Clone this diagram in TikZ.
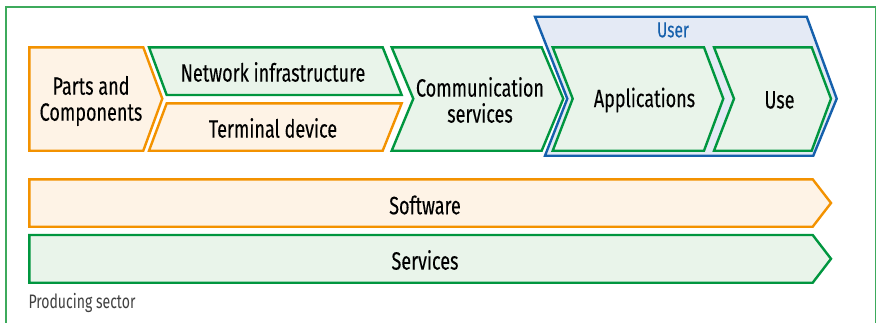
\documentclass[tikz,border=0pt]{standalone}
\usepackage{fontspec}
\setmainfont{Fira Sans}[FakeStretch=0.72]
\newfontfamily\lblfont{Fira Sans}[FakeStretch=0.72,FakeBold=0.2]
\definecolor{orl}{HTML}{F39200}
\definecolor{orf}{HTML}{FEF3E6}
\definecolor{grl}{HTML}{00963F}
\definecolor{grf}{HTML}{E9F4EA}
\definecolor{bll}{HTML}{1560AC}
\definecolor{blf}{HTML}{E4EAF5}
\definecolor{frm}{HTML}{3DAA5C}
\definecolor{txt}{HTML}{000000}
\begin{document}
\begin{tikzpicture}[x=1pt,y=-1pt,
  orbox/.style={draw=orl,fill=orf,line width=2.4pt,line join=miter},
  grbox/.style={draw=grl,fill=grf,line width=2.4pt,line join=miter},
  blbox/.style={draw=bll,fill=blf,line width=2.4pt,line join=miter},
  lbl/.style={text=txt,font=\lblfont\fontsize{25}{26}\selectfont,align=center,inner sep=0pt},
  small/.style={text=black!75,font=\fontsize{19.5}{20}\selectfont,inner sep=0pt}]
\useasboundingbox (0,0) rectangle (877,322);
% outer frame (open at bottom)
\draw[frm,line width=1.2pt] (6,330) -- (6,7) -- (875.5,7) -- (875.5,330);
% User frame
\draw[blbox] (535,16.7) -- (806.7,16.7) -- (836.7,98.7) -- (813.3,155.7) -- (545,155.7) -- (567.3,98.7) -- cycle;
% Parts and Components
\draw[orbox] (29.3,47.3) -- (143.3,47.3) -- (162.3,98.7) -- (143.3,150.7) -- (29.3,150.7) -- cycle;
% Network infrastructure
\draw[grbox] (149,47.3) -- (382.7,47.3) -- (401.7,95) -- (166.7,95) -- cycle;
% Terminal device
\draw[orbox] (166.7,103.3) -- (401.7,103.3) -- (382.7,150.7) -- (149,150.7) -- cycle;
% Communication services
\draw[grbox] (391.7,47.3) -- (541.7,47.3) -- (563.3,98.7) -- (541.7,150.7) -- (391.7,150.7) -- (413.3,98.7) -- cycle;
% Applications
\draw[grbox] (552.7,47.3) -- (704,47.3) -- (723.3,98.7) -- (704,150.7) -- (552.7,150.7) -- (572.7,98.7) -- cycle;
% Use
\draw[grbox] (714,47.3) -- (811.7,47.3) -- (831,98.7) -- (811.7,150.7) -- (714,150.7) -- (734,98.7) -- cycle;
% Software
\draw[orbox] (29.3,179.3) -- (812.7,179.3) -- (831,203) -- (812.7,226.7) -- (29.3,226.7) -- cycle;
% Services
\draw[grbox] (29.3,235) -- (812.7,235) -- (831,258.8) -- (812.7,282.7) -- (29.3,282.7) -- cycle;
% labels
\node[lbl] (pc) at (91,101) {Parts and\\Components};
\node[lbl] (ni) at (273,72) {Network infrastructure};
\node[lbl] (td) at (273,128) {Terminal device};
\node[lbl] (cs) at (480,100) {Communication\\services};
\node[lbl,text=bll,font=\lblfont\fontsize{21.5}{22}\selectfont] (us) at (673,30) {User};
\node[lbl] (ap) at (644.5,100) {Applications};
\node[lbl] (ue) at (779.5,100) {Use};
\node[lbl] (sw) at (425,205) {Software};
\node[lbl] (sv) at (425,260) {Services};
\node[small,anchor=west] (ps) at (28.3,303) {Producing sector};
\end{tikzpicture}
\end{document}
